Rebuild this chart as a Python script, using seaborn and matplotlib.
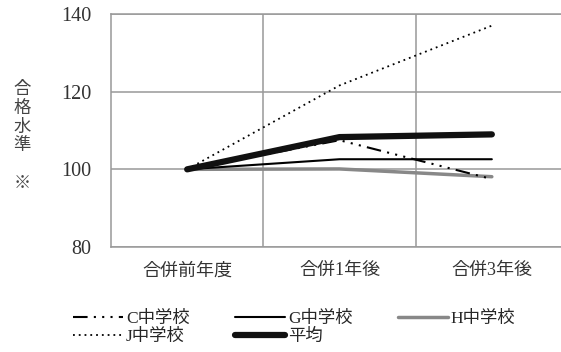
import numpy as np
import matplotlib
matplotlib.use("Agg")
import matplotlib.pyplot as plt
import seaborn as sns

# data
periods = ["合併前年度", "合併1年後", "合併3年後"]
c_school = [100, 107.5, 97.5]
g_school = [100, 102.6, 102.6]
h_school = [100, 100.1, 98.1]
j_school = [100, 121.6, 137.0]
average = [100, 108.3, 109.0]
y_ticks = [80, 100, 120, 140]

sns.set_style("white")
plt.rcParams['font.family'] = ['Liberation Serif', 'Noto Sans CJK JP']

fig = plt.figure(figsize=(5.61, 3.52), dpi=100)
ax = fig.add_axes([111 / 561, 105 / 352, 457 / 561, 233 / 352])

x = np.arange(len(periods))
series = [
    ("C中学校", c_school, dict(color="black", lw=1.5, linestyle=(0, (7, 3, 1, 3, 1, 3, 1, 3)))),
    ("J中学校", j_school, dict(color="black", lw=1.3, linestyle=(0, (1, 2.2)))),
    ("G中学校", g_school, dict(color="black", lw=1.5, linestyle="-")),
    ("平均", average, dict(color="#111111", lw=4.5, linestyle="-", solid_capstyle="round")),
    ("H中学校", h_school, dict(color="#888888", lw=2.5, linestyle="-")),
]
draw_order = ["H中学校", "G中学校", "C中学校", "J中学校", "平均"]
lookup = {name: (vals, style) for name, vals, style in series}
for name in draw_order:
    vals, style = lookup[name]
    sns.lineplot(x=x, y=vals, ax=ax, label=name, **style)

ax.set_xlim(-0.5, 2.5)
ax.set_ylim(80, 140)
ax.set_yticks(y_ticks)
ax.set_xticks([0.5, 1.5], minor=True)
ax.set_xticks(x)
ax.set_xticklabels(periods, fontsize=13, color="#333333")
ax.tick_params(axis="y", labelsize=14.5, pad=14, colors="#333333", length=0)
ax.tick_params(axis="x", pad=11, length=0)
ax.tick_params(which="minor", length=0)
ax.grid(True, axis="y", which="major", color="#999999", lw=1.1)
ax.grid(True, axis="x", which="minor", color="#999999", lw=1.1)
ax.set_axisbelow(True)
for s in ax.spines.values():
    s.set_color("#999999")
    s.set_linewidth(1.1)
ax.set_xlabel("")
ax.set_ylabel("")

fig.text(22 / 561, 1 - 136 / 352, "合\n格\n水\n準\n\n※", ha="center", va="center",
         fontsize=12.5, color="#444444", linespacing=1.05, family=['Noto Sans CJK JP'])

ax.get_legend().remove()
handles = {h.get_label(): h for h in ax.get_lines() if not h.get_label().startswith("_")}
order = ["C中学校", "J中学校", "G中学校", "平均", "H中学校"]
fig.legend([handles[n] for n in order], order, loc="upper left",
           bbox_to_anchor=(73 / 561, 1 - 311 / 352), ncol=3, frameon=False,
           fontsize=12.5, handlelength=2.9, handletextpad=0.15, columnspacing=2.6,
           labelspacing=0.1, borderaxespad=0, borderpad=0)

fig.savefig("out.png", dpi=100)
